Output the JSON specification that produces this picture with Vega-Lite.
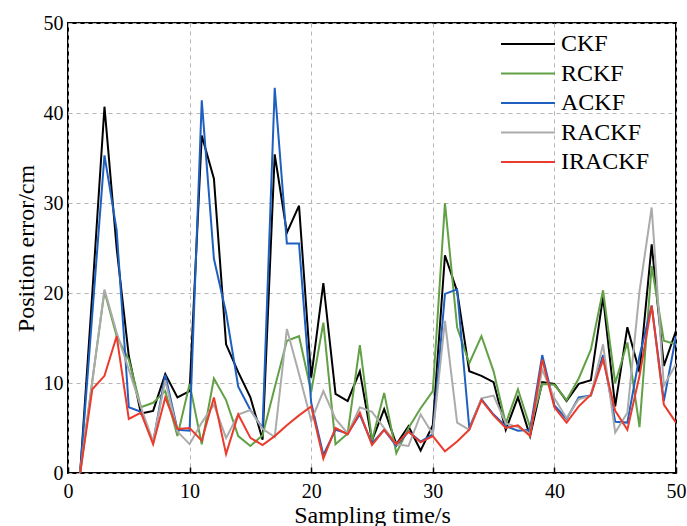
{
  "$schema": "https://vega.github.io/schema/vega-lite/v6.json",
  "width": 608,
  "height": 450,
  "autosize": {"type": "none"},
  "padding": {"left": 68, "top": 23, "right": 11, "bottom": 53},
  "background": "white",
  "config": {
    "font": "Liberation Serif",
    "view": {"stroke": "black", "strokeWidth": 2},
    "axis": {
      "domain": false,
      "grid": true,
      "gridColor": "#b5b5b5",
      "gridDash": [4, 4],
      "gridWidth": 1,
      "labelFont": "Liberation Serif",
      "labelFontSize": 20,
      "labelColor": "black",
      "labelFlush": false,
      "labelOverlap": false,
      "titleFont": "Liberation Serif",
      "titleFontSize": 24,
      "titleFontWeight": "normal",
      "titleColor": "black"
    }
  },
  "data": {
    "values": [
      {"t": 1, "CKF": 0, "RCKF": 0, "ACKF": 0, "RACKF": 0, "IRACKF": 0},
      {"t": 2, "CKF": 20, "RCKF": 10.2, "ACKF": 17.7, "RACKF": 10.2, "IRACKF": 9.3},
      {"t": 3, "CKF": 40.7, "RCKF": 20.2, "ACKF": 35.3, "RACKF": 20.4, "IRACKF": 10.8},
      {"t": 4, "CKF": 25, "RCKF": 15.2, "ACKF": 27, "RACKF": 15.6, "IRACKF": 15.2},
      {"t": 5, "CKF": 13, "RCKF": 12.6, "ACKF": 7.3, "RACKF": 11.5, "IRACKF": 6.0},
      {"t": 6, "CKF": 6.6, "RCKF": 7.3, "ACKF": 6.8, "RACKF": 7.3, "IRACKF": 6.7},
      {"t": 7, "CKF": 6.9, "RCKF": 7.8, "ACKF": 3.4, "RACKF": 3.5, "IRACKF": 3.2},
      {"t": 8, "CKF": 11.0, "RCKF": 9.1, "ACKF": 10.9, "RACKF": 10.3, "IRACKF": 8.4},
      {"t": 9, "CKF": 8.4, "RCKF": 4.1, "ACKF": 4.8, "RACKF": 4.6, "IRACKF": 4.9},
      {"t": 10, "CKF": 9.1, "RCKF": 9.9, "ACKF": 4.7, "RACKF": 3.2, "IRACKF": 5.0},
      {"t": 11, "CKF": 37.5, "RCKF": 3.2, "ACKF": 41.4, "RACKF": 5.6, "IRACKF": 3.6},
      {"t": 12, "CKF": 32.7, "RCKF": 10.5, "ACKF": 23.8, "RACKF": 7.6, "IRACKF": 8.4},
      {"t": 13, "CKF": 14.3, "RCKF": 8.1, "ACKF": 17.8, "RACKF": 3.9, "IRACKF": 2.1},
      {"t": 14, "CKF": 11.2, "RCKF": 4.1, "ACKF": 9.6, "RACKF": 6.5, "IRACKF": 6.5},
      {"t": 15, "CKF": 8.4, "RCKF": 3.0, "ACKF": 7.0, "RACKF": 7.0, "IRACKF": 3.9},
      {"t": 16, "CKF": 3.7, "RCKF": 4.2, "ACKF": 5.0, "RACKF": 4.9, "IRACKF": 3.1},
      {"t": 17, "CKF": 35.4, "RCKF": 9.5, "ACKF": 42.8, "RACKF": 4.0, "IRACKF": 4.1},
      {"t": 18, "CKF": 26.7, "RCKF": 14.7, "ACKF": 25.5, "RACKF": 16.0, "IRACKF": 5.3},
      {"t": 19, "CKF": 29.7, "RCKF": 15.2, "ACKF": 25.5, "RACKF": 11.0, "IRACKF": 6.4},
      {"t": 20, "CKF": 10.6, "RCKF": 9.0, "ACKF": 7.8, "RACKF": 5.8, "IRACKF": 7.4},
      {"t": 21, "CKF": 21.1, "RCKF": 16.7, "ACKF": 2.0, "RACKF": 9.1, "IRACKF": 1.6},
      {"t": 22, "CKF": 8.8, "RCKF": 3.2, "ACKF": 4.8, "RACKF": 6.0, "IRACKF": 5.0},
      {"t": 23, "CKF": 8.0, "RCKF": 4.4, "ACKF": 4.4, "RACKF": 4.4, "IRACKF": 4.3},
      {"t": 24, "CKF": 11.3, "RCKF": 14.2, "ACKF": 6.5, "RACKF": 7.3, "IRACKF": 6.7},
      {"t": 25, "CKF": 3.6, "RCKF": 3.6, "ACKF": 3.3, "RACKF": 6.8, "IRACKF": 3.1},
      {"t": 26, "CKF": 7.1, "RCKF": 8.9, "ACKF": 4.8, "RACKF": 5.0, "IRACKF": 4.8},
      {"t": 27, "CKF": 3.2, "RCKF": 2.2, "ACKF": 3.0, "RACKF": 3.2, "IRACKF": 3.2},
      {"t": 28, "CKF": 5.2, "RCKF": 5.0, "ACKF": 4.6, "RACKF": 3.0, "IRACKF": 4.6},
      {"t": 29, "CKF": 2.5, "RCKF": 7.2, "ACKF": 3.5, "RACKF": 6.5, "IRACKF": 3.4},
      {"t": 30, "CKF": 5.3, "RCKF": 9.1, "ACKF": 4.3, "RACKF": 4.3, "IRACKF": 4.1},
      {"t": 31, "CKF": 24.2, "RCKF": 30.0, "ACKF": 19.9, "RACKF": 16.9, "IRACKF": 2.4},
      {"t": 32, "CKF": 20.2, "RCKF": 16.2, "ACKF": 20.4, "RACKF": 5.6, "IRACKF": 3.5},
      {"t": 33, "CKF": 11.3, "RCKF": 12.2, "ACKF": 5.0, "RACKF": 4.8, "IRACKF": 4.8},
      {"t": 34, "CKF": 10.8, "RCKF": 15.2, "ACKF": 8.2, "RACKF": 8.3, "IRACKF": 8.1},
      {"t": 35, "CKF": 10.1, "RCKF": 11.3, "ACKF": 6.5, "RACKF": 8.6, "IRACKF": 6.4},
      {"t": 36, "CKF": 4.8, "RCKF": 5.5, "ACKF": 5.2, "RACKF": 5.5, "IRACKF": 5.0},
      {"t": 37, "CKF": 8.4, "RCKF": 9.3, "ACKF": 4.7, "RACKF": 5.1, "IRACKF": 5.3},
      {"t": 38, "CKF": 4.1, "RCKF": 5.1, "ACKF": 4.8, "RACKF": 4.4, "IRACKF": 4.1},
      {"t": 39, "CKF": 10.1, "RCKF": 9.9, "ACKF": 13.1, "RACKF": 11.5, "IRACKF": 12.6},
      {"t": 40, "CKF": 9.9, "RCKF": 9.8, "ACKF": 7.5, "RACKF": 8.3, "IRACKF": 7.3},
      {"t": 41, "CKF": 8.0, "RCKF": 8.1, "ACKF": 6.0, "RACKF": 6.1, "IRACKF": 5.6},
      {"t": 42, "CKF": 9.9, "RCKF": 10.5, "ACKF": 8.4, "RACKF": 8.2, "IRACKF": 7.4},
      {"t": 43, "CKF": 10.3, "RCKF": 13.7, "ACKF": 8.6, "RACKF": 8.6, "IRACKF": 8.7},
      {"t": 44, "CKF": 19.6, "RCKF": 20.3, "ACKF": 13.1, "RACKF": 14.3, "IRACKF": 12.6},
      {"t": 45, "CKF": 7.4, "RCKF": 10.0, "ACKF": 5.7, "RACKF": 4.5, "IRACKF": 6.9},
      {"t": 46, "CKF": 16.2, "RCKF": 14.5, "ACKF": 5.6, "RACKF": 6.7, "IRACKF": 4.8},
      {"t": 47, "CKF": 11.2, "RCKF": 5.1, "ACKF": 13.0, "RACKF": 20.2, "IRACKF": 10.8},
      {"t": 48, "CKF": 25.4, "RCKF": 23.0, "ACKF": 18.6, "RACKF": 29.5, "IRACKF": 18.6},
      {"t": 49, "CKF": 11.9, "RCKF": 14.7, "ACKF": 8.0, "RACKF": 9.7, "IRACKF": 7.6},
      {"t": 50, "CKF": 15.8, "RCKF": 14.3, "ACKF": 15.2, "RACKF": 12.1, "IRACKF": 5.6}
    ]
  },
  "transform": [
    {"fold": ["CKF", "RCKF", "ACKF", "RACKF", "IRACKF"], "as": ["method", "error"]}
  ],
  "mark": {"type": "line", "strokeWidth": 2, "clip": true},
  "encoding": {
    "x": {
      "field": "t",
      "type": "quantitative",
      "scale": {"domain": [0, 50], "nice": false, "zero": false},
      "axis": {
        "title": "Sampling time/s",
        "values": [0, 10, 20, 30, 40, 50],
        "ticks": true,
        "tickSize": -6,
        "tickColor": "black",
        "tickWidth": 1.5,
        "labelPadding": 14,
        "titleBaseline": "alphabetic",
        "titleY": 49
      }
    },
    "y": {
      "field": "error",
      "type": "quantitative",
      "scale": {"domain": [0, 50], "nice": false},
      "axis": {
        "title": "Position error/cm",
        "values": [0, 10, 20, 30, 40, 50],
        "ticks": false,
        "labelPadding": 5,
        "titleAngle": -90,
        "titleBaseline": "alphabetic",
        "titleAlign": "center",
        "titleX": -35,
        "titleY": 225
      }
    },
    "color": {
      "field": "method",
      "type": "nominal",
      "sort": ["CKF", "RCKF", "ACKF", "RACKF", "IRACKF"],
      "scale": {
        "domain": ["CKF", "RCKF", "ACKF", "RACKF", "IRACKF"],
        "range": ["#000000", "#62a046", "#1f5fbf", "#ababab", "#ea3b2c"]
      },
      "legend": {
        "title": null,
        "orient": "none",
        "legendX": 448,
        "legendY": 9,
        "padding": 0,
        "symbolType": "M-4,0H4",
        "symbolSize": 182,
        "symbolStrokeWidth": 2,
        "labelOffset": 21,
        "labelFont": "Liberation Serif",
        "labelFontSize": 24,
        "labelColor": "black",
        "rowPadding": 5.5
      }
    }
  }
}
